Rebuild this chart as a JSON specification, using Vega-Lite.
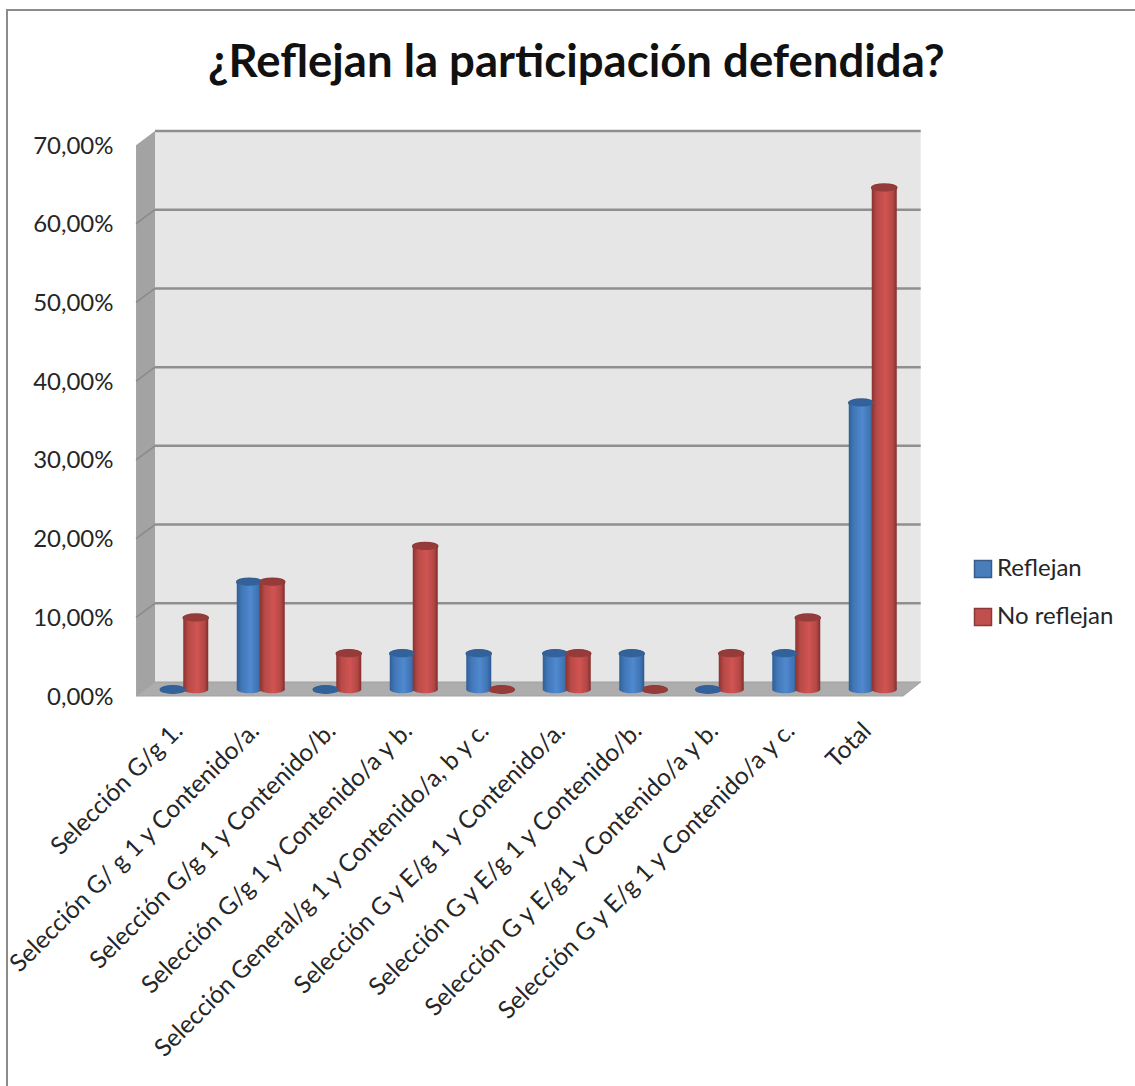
{
"$schema":"https://vega.github.io/schema/vega-lite/v6.json",
"width":1140,"height":1090,
"autosize":{"type":"none"},
"padding":{"left":7,"top":10,"right":0,"bottom":0},
"background":"white",
"view":{"stroke":"#8c8c8c","strokeWidth":2,"fill":"white"},
"title":{"text":"¿Reflejan la participación defendida?","font":"Lato","fontSize":45.5,"fontWeight":"bold","color":"#111111","anchor":"start","frame":"group","dx":201,"offset":-76},
"datasets":{
"d":[
{"cat":"Selección G/g 1.","series":"Reflejan","value":0},
{"cat":"Selección G/g 1.","series":"No reflejan","value":9.09},
{"cat":"Selección G/ g 1 y Contenido/a.","series":"Reflejan","value":13.64},
{"cat":"Selección G/ g 1 y Contenido/a.","series":"No reflejan","value":13.64},
{"cat":"Selección G/g 1 y Contenido/b.","series":"Reflejan","value":0},
{"cat":"Selección G/g 1 y Contenido/b.","series":"No reflejan","value":4.55},
{"cat":"Selección G/g 1 y Contenido/a y b.","series":"Reflejan","value":4.55},
{"cat":"Selección G/g 1 y Contenido/a y b.","series":"No reflejan","value":18.18},
{"cat":"Selección General/g 1 y Contenido/a, b y c.","series":"Reflejan","value":4.55},
{"cat":"Selección General/g 1 y Contenido/a, b y c.","series":"No reflejan","value":0},
{"cat":"Selección G y E/g 1 y Contenido/a.","series":"Reflejan","value":4.55},
{"cat":"Selección G y E/g 1 y Contenido/a.","series":"No reflejan","value":4.55},
{"cat":"Selección G y E/g 1 y Contenido/b.","series":"Reflejan","value":4.55},
{"cat":"Selección G y E/g 1 y Contenido/b.","series":"No reflejan","value":0},
{"cat":"Selección G y E/g1 y Contenido/a y b.","series":"Reflejan","value":0},
{"cat":"Selección G y E/g1 y Contenido/a y b.","series":"No reflejan","value":4.55},
{"cat":"Selección G y E/g 1 y Contenido/a y c.","series":"Reflejan","value":4.55},
{"cat":"Selección G y E/g 1 y Contenido/a y c.","series":"No reflejan","value":9.09},
{"cat":"Total","series":"Reflejan","value":36.36},
{"cat":"Total","series":"No reflejan","value":63.64}
],
"side":[{"p":0.373,"a":68.2,"b":-1.78},{"p":0.621,"a":70,"b":0}],
"back":[{"p":0.621,"a":70,"b":0},{"p":10.63,"a":70,"b":0}],
"floor":[{"p":0.373,"a":-1.78,"b":-1.78},{"p":0.621,"a":0,"b":-1.78},{"p":10.4,"a":0,"b":-1.78},{"p":10.63,"a":0,"b":0}],
"grid":[{"v":0},{"v":10},{"v":20},{"v":30},{"v":40},{"v":50},{"v":60},{"v":70}],
"sidegrid":[{"v":10,"f":8.22},{"v":20,"f":18.22},{"v":30,"f":28.22},{"v":40,"f":38.22},{"v":50,"f":48.22},{"v":60,"f":58.22}]
},
"layer":[
{"data":{"name":"side"},"mark":{"type":"area","fill":"#a3a3a3"},
 "encoding":{"x":{"field":"p","type":"quantitative","scale":{"domain":[1,10],"range":[177,865.5],"zero":false,"nice":false},"axis":null},
 "y":{"field":"a","type":"quantitative","scale":{"domain":[0,70],"range":[672,121],"nice":false},"axis":null},"y2":{"field":"b"}}},
{"data":{"name":"back"},"mark":{"type":"area","fill":"#e6e6e6"},
 "encoding":{"x":{"field":"p","type":"quantitative","scale":{"domain":[1,10],"range":[177,865.5],"zero":false,"nice":false},"axis":null},
 "y":{"field":"a","type":"quantitative","scale":{"domain":[0,70],"range":[672,121],"nice":false},"axis":null},"y2":{"field":"b"}}},
{"data":{"name":"floor"},"mark":{"type":"area","fill":"#adadad","stroke":"#a0a0a0","strokeWidth":1},
 "encoding":{"x":{"field":"p","type":"quantitative","scale":{"domain":[1,10],"range":[177,865.5],"zero":false,"nice":false},"axis":null},
 "y":{"field":"a","type":"quantitative","scale":{"domain":[0,70],"range":[672,121],"nice":false},"axis":null},"y2":{"field":"b"}}},
{"data":{"name":"sidegrid"},"mark":{"type":"rule","color":"#8a8a8a","strokeWidth":1.5},
 "encoding":{"x":{"datum":0.373,"type":"quantitative","scale":{"domain":[1,10],"range":[177,865.5],"zero":false,"nice":false},"axis":null},"x2":{"datum":0.621},
 "y":{"field":"f","type":"quantitative","scale":{"domain":[0,70],"range":[672,121],"nice":false},"axis":null},"y2":{"field":"v"}}},
{"data":{"name":"grid"},"transform":[{"filter":"datum.v>0"}],"mark":{"type":"rule","color":"#8f8f8f","strokeWidth":2.5},
 "encoding":{"x":{"datum":0.621,"type":"quantitative","scale":{"domain":[1,10],"range":[177,865.5],"zero":false,"nice":false},"axis":null},"x2":{"datum":10.63},
 "y":{"field":"v","type":"quantitative","scale":{"domain":[0,70],"range":[672,121],"nice":false},
  "axis":{"orient":"left","offset":-106,"values":[0,10,20,30,40,50,60,70],"domain":false,"ticks":false,"grid":false,"title":null,"labelPadding":0,"labelOffset":15,"labelFont":"Lato","labelFontSize":24,"labelColor":"#262626","labelExpr":"replace(format(datum.value,'.2f'),'.',',')+'%'"}}}},
{"data":{"name":"d"},"mark":{"type":"point","filled":true,"opacity":1,"strokeWidth":1.5,"shape":"M -1 0 A 1 0.3 0 1 0 1 0 A 1 0.3 0 1 0 -1 0 Z","size":625},
 "encoding":{"x":{"field":"cat","type":"nominal","sort":null,"scale":{"range":[139,904],"paddingInner":0,"paddingOuter":0},
   "axis":{"orient":"bottom","offset":-404,"domain":false,"ticks":false,"grid":false,"title":null,"labelAngle":-45,"labelAlign":"right","labelBaseline":"middle","labelPadding":31,"labelOffset":-5,"labelFont":"Lato","labelFontSize":24.5,"labelColor":"#262626","labelLimit":900,"labelOverlap":false}},
  "xOffset":{"field":"series","type":"nominal","scale":{"type":"point","padding":0,"domain":["Reflejan","No reflejan"],"range":[26.75,49.75]}},
  "y":{"field":"value","type":"quantitative","scale":{"domain":[0,70],"range":[679.5,127.5],"nice":false},"axis":null},
  "color":{"field":"series","type":"nominal","scale":{"domain":["Reflejan","No reflejan"],"range":["#4a7ebb","#c0504d"]},
   "legend":{"orient":"none","legendX":964,"legendY":547,"title":null,"symbolType":"square","symbolSize":289,"symbolStrokeWidth":1.5,"labelFont":"Lato","labelFontSize":24,"labelColor":"#262626","rowPadding":24,"labelOffset":2}},
  "stroke":{"field":"series","type":"nominal","scale":{"domain":["Reflejan","No reflejan"],"range":["#385d8a","#8c3836"]},
   "legend":{"orient":"none","legendX":964,"legendY":547,"title":null,"symbolType":"square","symbolSize":289,"symbolStrokeWidth":1.5,"labelFont":"Lato","labelFontSize":24,"labelColor":"#262626","rowPadding":24,"labelOffset":2}}}},
{"data":{"name":"d"},"transform":[{"filter":"datum.value>0"}],"mark":{"type":"point","filled":true,"opacity":1,"shape":"M -1 0 A 1 0.3 0 1 0 1 0 A 1 0.3 0 1 0 -1 0 Z","size":625},
 "encoding":{"x":{"field":"cat","type":"nominal","sort":null,"scale":{"range":[139,904],"paddingInner":0,"paddingOuter":0},"axis":null},
  "xOffset":{"field":"series","type":"nominal","scale":{"type":"point","padding":0,"domain":["Reflejan","No reflejan"],"range":[26.75,49.75]}},
  "y":{"datum":0,"type":"quantitative","scale":{"domain":[0,70],"range":[679.5,127.5],"nice":false},"axis":null},
  "fill":{"condition":{"test":"datum.series==='Reflejan'","value":{"gradient":"linear","x1":0,"x2":1,"y1":0,"y2":0,"stops":[{"offset":0,"color":"#2f5f96"},{"offset":0.2,"color":"#4177b8"},{"offset":0.55,"color":"#5089cf"},{"offset":0.85,"color":"#3f73b3"},{"offset":1,"color":"#2c5a8f"}]}},"value":{"gradient":"linear","x1":0,"x2":1,"y1":0,"y2":0,"stops":[{"offset":0,"color":"#8b3230"},{"offset":0.2,"color":"#b84a47"},{"offset":0.55,"color":"#d05452"},{"offset":0.85,"color":"#b34745"},{"offset":1,"color":"#822e2c"}]}}}},
{"data":{"name":"d"},"transform":[{"filter":"datum.value>0"}],"mark":{"type":"bar","width":25},
 "encoding":{"x":{"field":"cat","type":"nominal","sort":null,"scale":{"range":[139,904],"paddingInner":0,"paddingOuter":0},"axis":null},
  "xOffset":{"field":"series","type":"nominal","scale":{"type":"point","padding":0,"domain":["Reflejan","No reflejan"],"range":[26.75,49.75]}},
  "y":{"field":"value","type":"quantitative","scale":{"domain":[0,70],"range":[679.5,127.5],"nice":false},"axis":null},
  "fill":{"condition":{"test":"datum.series==='Reflejan'","value":{"gradient":"linear","x1":0,"x2":1,"y1":0,"y2":0,"stops":[{"offset":0,"color":"#2f5f96"},{"offset":0.2,"color":"#4177b8"},{"offset":0.55,"color":"#5089cf"},{"offset":0.85,"color":"#3f73b3"},{"offset":1,"color":"#2c5a8f"}]}},"value":{"gradient":"linear","x1":0,"x2":1,"y1":0,"y2":0,"stops":[{"offset":0,"color":"#8b3230"},{"offset":0.2,"color":"#b84a47"},{"offset":0.55,"color":"#d05452"},{"offset":0.85,"color":"#b34745"},{"offset":1,"color":"#822e2c"}]}}}},
{"data":{"name":"d"},"mark":{"type":"point","filled":true,"opacity":1,"shape":"M -1 0 A 1 0.3 0 1 0 1 0 A 1 0.3 0 1 0 -1 0 Z","size":625},
 "encoding":{"x":{"field":"cat","type":"nominal","sort":null,"scale":{"range":[139,904],"paddingInner":0,"paddingOuter":0},"axis":null},
  "xOffset":{"field":"series","type":"nominal","scale":{"type":"point","padding":0,"domain":["Reflejan","No reflejan"],"range":[26.75,49.75]}},
  "y":{"field":"value","type":"quantitative","scale":{"domain":[0,70],"range":[679.5,127.5],"nice":false},"axis":null},
  "fill":{"condition":{"test":"datum.series==='Reflejan'","value":"#33629a"},"value":"#953b39"}}}
],
"resolve":{"scale":{"x":"independent","y":"independent","xOffset":"independent"}}
}
